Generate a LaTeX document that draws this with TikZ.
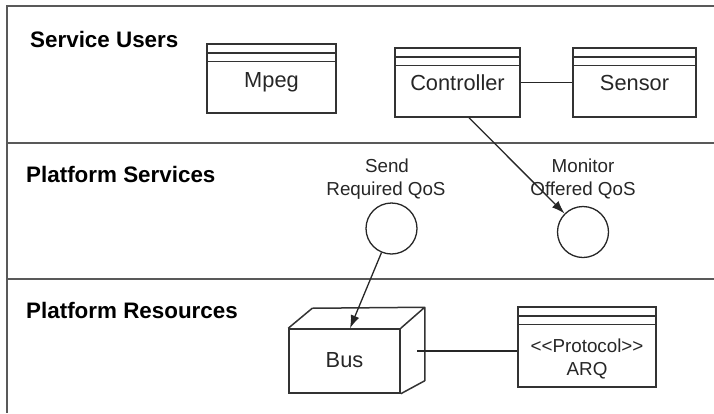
\documentclass[tikz,border=0pt]{standalone}
\usepackage{fontspec}
\setmainfont{Liberation Sans}
\usetikzlibrary{arrows.meta,calc}

\tikzset{
  frameline/.style={draw=black!65, line width=2.2pt},
  edge/.style={draw=black!85, line width=1.3pt},
  umlbox/.style={draw=black!80, line width=1.5pt, rectangle, inner sep=0pt,
    path picture={
      \draw[black!80, line width=1.3pt]
        ([yshift=-9pt]path picture bounding box.north west) -- ([yshift=-9pt]path picture bounding box.north east)
        ([yshift=-17.5pt]path picture bounding box.north west) -- ([yshift=-17.5pt]path picture bounding box.north east);
    }},
  facebox/.style={draw=black!80, line width=1.5pt, rectangle, inner sep=0pt},
  iface/.style={draw=black!85, line width=1.3pt, circle, minimum size=51pt, inner sep=0pt},
  layertitle/.style={anchor=base west, inner sep=0pt, font=\fontsize{22.4}{25}\selectfont\bfseries},
  boxtext/.style={anchor=base, inner sep=0pt, font=\fontsize{21.8}{24}\selectfont, text=black!85},
  smalltext/.style={anchor=base, inner sep=0pt, font=\fontsize{18.8}{22}\selectfont, text=black!85},
  tip/.style={-{Latex[length=13pt,width=9pt]}}
}

\begin{document}
\begin{tikzpicture}[x=1pt, y=-1pt]
  \useasboundingbox (0,0) rectangle (714,413);

  % layer frame
  \coordinate (ftl) at (7,6);
  \draw[frameline] (714,6) -- (ftl) -- (7,413);
  \draw[frameline] (7,143) -- (714,143);
  \draw[frameline] (7,279) -- (714,279);

  % layer titles
  \node[layertitle] (tusers) at (30,47) {Service Users};
  \node[layertitle] (tservices) at (26,182) {Platform Services};
  \node[layertitle] (tresources) at (26,318) {Platform Resources};

  % service users
  \node[umlbox, minimum width=129pt, minimum height=69pt] (mpeg) at (271.5,78.5) {};
  \node[boxtext] (mpegtxt) at (271.5,87) {Mpeg};
  \node[umlbox, minimum width=125pt, minimum height=69pt] (ctrl) at (457.5,82.5) {};
  \node[boxtext] (ctrltxt) at (457.5,90) {Controller};
  \node[umlbox, minimum width=123pt, minimum height=69pt] (sensor) at (634.5,82.5) {};
  \node[boxtext] (sensortxt) at (634.5,90) {Sensor};

  % platform services
  \node[iface] (send) at (391.5,228.5) {};
  \node[smalltext] (sendl1) at (387,172) {Send};
  \node[smalltext] (sendl2) at (386,195) {Required QoS};
  \node[iface] (mon) at (583,232) {};
  \node[smalltext] (monl1) at (583,172) {Monitor};
  \node[smalltext] (monl2) at (583,195) {Offered QoS};

  % platform resources
  \node[facebox, minimum width=111pt, minimum height=64pt] (bus) at (344.5,361) {};
  \draw[black!80, line width=1.5pt, line join=round]
    (bus.north west) -- ++(24,-20) -- ($(bus.north east)+(24,-21)$) -- (bus.north east)
    ($(bus.north east)+(24,-21)$) -- ($(bus.south east)+(24,-13)$) -- (bus.south east);
  \node[boxtext] (bustxt) at (344.5,367) {Bus};
  \node[umlbox, minimum width=138pt, minimum height=80pt] (arq) at (587,347) {};
  \node[smalltext] (arqtxt1) at (587,352) {<\kern0pt<Protocol>\kern0pt>};
  \node[smalltext] (arqtxt2) at (587,375) {ARQ};
  \coordinate (busport) at (417,351);

  % connectors
  \draw[edge] (ctrl) -- (sensor);
  \draw[edge, tip] ([xshift=11.5pt]ctrl.south) -- (mon);
  \draw[edge, tip] (send) -- ([xshift=5.5pt]bus.north);
  \draw[edge] (busport) -- (busport -| arq.west);
\end{tikzpicture}
\end{document}
